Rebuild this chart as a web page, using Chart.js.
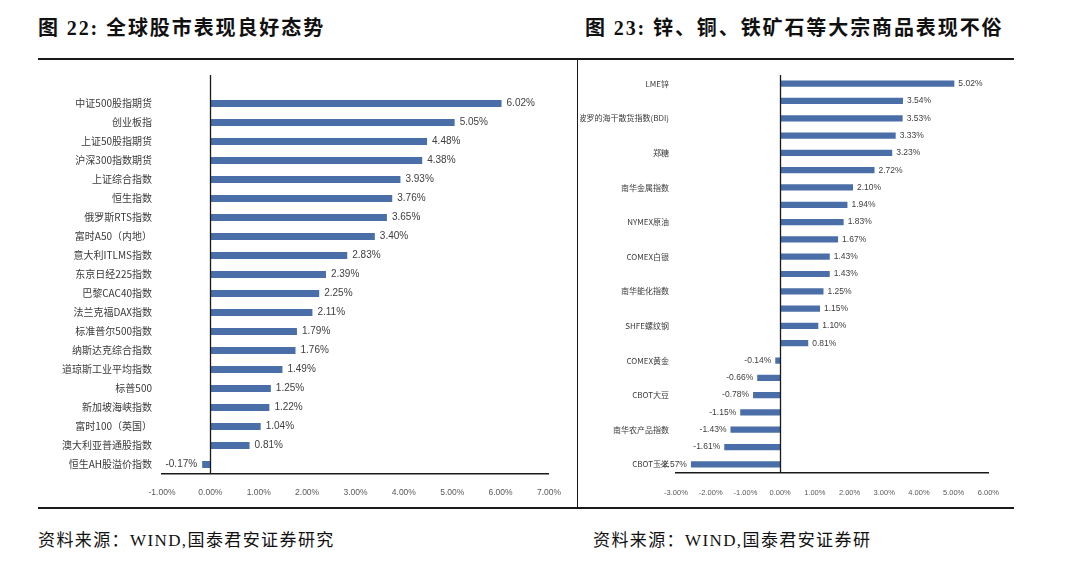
<!DOCTYPE html>
<html><head><meta charset="utf-8">
<script src="https://cdn.jsdelivr.net/npm/chart.js@4/dist/chart.umd.min.js"></script>
<style>
html,body{margin:0;padding:0;background:#fff;}
body{width:1080px;height:563px;position:relative;overflow:hidden;}
.title{position:absolute;top:14px;font-family:"Liberation Serif","Noto Sans CJK SC",serif;font-weight:bold;font-size:20px;color:#111;white-space:nowrap;line-height:28px;}
.foot{position:absolute;top:528px;font-family:"Liberation Serif","Noto Sans CJK SC",serif;font-size:17px;color:#111;white-space:nowrap;line-height:26px;}
.hl{position:absolute;background:#1a1a1a;}
canvas{position:absolute;}
</style>
</head><body>
<div class="title" style="left:38px;letter-spacing:1.9px;">图 22:&nbsp;全球股市表现良好态势</div>
<div class="title" style="left:585px;letter-spacing:1.9px;">图 23:&nbsp;锌、铜、铁矿石等大宗商品表现不俗</div>
<div class="hl" style="left:38px;top:58px;width:976px;height:2px;"></div>
<div class="hl" style="left:38px;top:507px;width:976px;height:2px;"></div>
<div class="hl" style="left:577px;top:59px;width:1px;height:449px;"></div>
<canvas id="c1" width="575" height="446" style="left:0;top:62px;"></canvas>
<canvas id="c2" width="434" height="446" style="left:580px;top:62px;"></canvas>
<div class="foot" style="left:38px;letter-spacing:1.4px;">资料来源：WIND,国泰君安证券研究</div>
<div class="foot" style="left:593px;letter-spacing:1.4px;">资料来源：WIND,国泰君安证券研</div>
<script>
const stockNames = ['中证500股指期货','创业板指','上证50股指期货','沪深300指数期货','上证综合指数','恒生指数','俄罗斯RTS指数','富时A50（内地）','意大利ITLMS指数','东京日经225指数','巴黎CAC40指数','法兰克福DAX指数','标准普尔500指数','纳斯达克综合指数','道琼斯工业平均指数','标普500','新加坡海峡指数','富时100（英国）','澳大利亚普通股指数','恒生AH股溢价指数'];
const stockValues = [6.02,5.05,4.48,4.38,3.93,3.76,3.65,3.40,2.83,2.39,2.25,2.11,1.79,1.76,1.49,1.25,1.22,1.04,0.81,-0.17];
const stockTickMin = -1, stockTickMax = 7;

const commodityNames = ['LME锌','','波罗的海干散货指数(BDI)','','郑糖','','南华金属指数','','NYMEX原油','','COMEX白银','','南华能化指数','','SHFE螺纹钢','','COMEX黄金','','CBOT大豆','','南华农产品指数','','CBOT玉米'];
const commodityValues = [5.02,3.54,3.53,3.33,3.23,2.72,2.10,1.94,1.83,1.67,1.43,1.43,1.25,1.15,1.10,0.81,-0.14,-0.66,-0.78,-1.15,-1.43,-1.61,-2.57];
const commodityTickMin = -3, commodityTickMax = 6;

const NUMF = '"Liberation Sans","Arial",sans-serif';
const CJK = '"Noto Sans CJK SC","Noto Sans",sans-serif';

const valueLabels = {
  id:'valueLabels',
  afterDatasetsDraw(chart, args, opts){
    const ctx = chart.ctx;
    const meta = chart.getDatasetMeta(0);
    const data = chart.data.datasets[0].data;
    ctx.save();
    ctx.font = opts.size + 'px ' + NUMF;
    ctx.fillStyle = '#404040';
    ctx.textBaseline = 'middle';
    meta.data.forEach((bar, i) => {
      const v = data[i];
      const txt = v.toFixed(2) + '%';
      if (v >= 0) { ctx.textAlign = 'left'; ctx.fillText(txt, bar.x + opts.offset, bar.y); }
      else { ctx.textAlign = 'right'; ctx.fillText(txt, bar.x - opts.offset, bar.y); }
    });
    ctx.restore();
  }
};
const zeroLine = {
  id:'zeroLine',
  afterDatasetsDraw(chart, args, opts){
    const ctx = chart.ctx, a = chart.chartArea;
    const x = Math.round(chart.scales.x.getPixelForValue(0)) + 0.5;
    ctx.save();
    ctx.strokeStyle = '#1a1a1a'; ctx.lineWidth = 1.3;
    ctx.beginPath(); ctx.moveTo(x, a.top - opts.extend); ctx.lineTo(x, a.bottom); ctx.stroke();
    ctx.restore();
  }
};

function makeChart(id, labels, values, c){
  return new Chart(document.getElementById(id), {
    type:'bar',
    data:{labels:labels, datasets:[{data:values, backgroundColor:'#4a6fa8', barPercentage:c.barPct, categoryPercentage:1}]},
    options:{
      indexAxis:'y', responsive:false, animation:false,
      layout:{padding:{top:c.top, right:c.right, left:0, bottom:0}},
      plugins:{legend:{display:false}, tooltip:{enabled:false},
        valueLabels:{size:c.valSize, offset:c.valOffset}, zeroLine:{extend:c.extend}},
      scales:{
        x:{type:'linear', min:c.min, max:c.max,
          ticks:{stepSize:1, callback:v => Number(v).toFixed(2) + '%', font:{family:NUMF, size:c.tickSize}, color:'#595959', padding:c.tickPad, maxRotation:0, autoSkip:false},
          grid:{display:false, drawTicks:false},
          border:{display:true, color:'#1a1a1a', width:1.5},
          afterFit(s){ s.height = c.bottomH; }
        },
        y:{
          ticks:{autoSkip:false, font:{family:CJK, size:c.catSize}, color:'#3a3a3a', padding:c.catPad},
          grid:{display:false, drawTicks:false},
          border:{display:false},
          afterFit(s){ s.width = c.leftW; }
        }
      }
    },
    plugins:[valueLabels, zeroLine]
  });
}

makeChart('c1', stockNames, stockValues, {min:stockTickMin, max:stockTickMax, top:32, right:22, bottomH:34, leftW:162,
  barPct:0.37, valSize:10, valOffset:5, tickSize:8.5, tickPad:14, catSize:10, catPad:10, extend:19});
makeChart('c2', commodityNames, commodityValues, {min:commodityTickMin, max:commodityTickMax, top:13, right:21, bottomH:35, leftW:96,
  barPct:0.36, valSize:8.5, valOffset:4, tickSize:7.5, tickPad:15, catSize:8, catPad:7, extend:0});
</script>
</body></html>
